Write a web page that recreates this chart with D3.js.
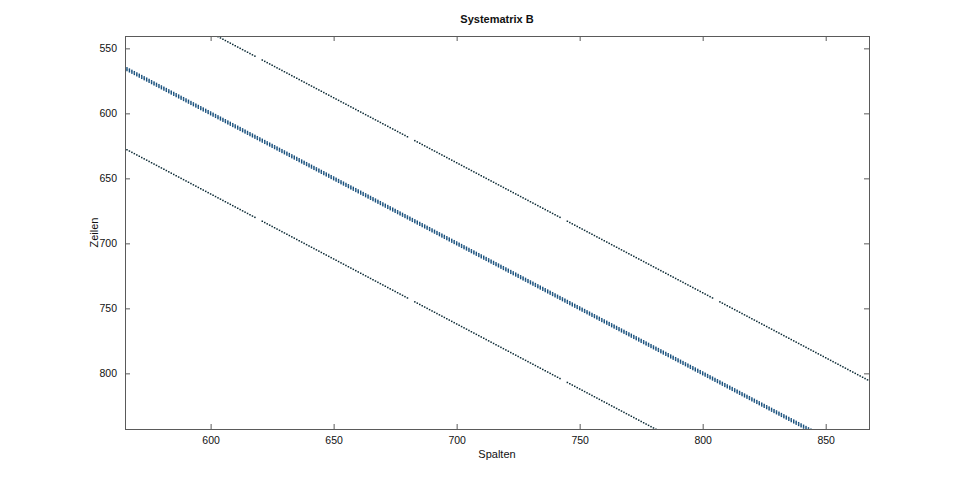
<!DOCTYPE html>
<html>
<head>
<meta charset="utf-8">
<script src="https://cdn.jsdelivr.net/npm/d3@7"></script>
<style>
  html, body { margin: 0; padding: 0; background: #fff; }
  svg { display: block; font-family: "Liberation Sans", Arial, sans-serif; }
</style>
</head>
<body>
<svg id="chart" width="960" height="482"></svg>
<script>
// ---- data ----
const titleText = "Systematrix B";
const xLabelText = "Spalten";
const yLabelText = "Zeilen";
const xDomain = [565.2, 867.6];      // visible column range
const yDomain = [540.5, 842.8];      // visible row range
const xTicks = [600, 650, 700, 750, 800, 850];
const yTicks = [550, 600, 650, 700, 750, 800];
const colRange = [560, 872];         // columns of the matrix section shown
const bandOffsets = [-1, 0, 1];      // tridiagonal main band (row - col)
const outerOffsets = [-62, 62];      // outer diagonals (row - col)
const gapCols = [619, 620, 681, 682, 743, 744, 805, 806]; // missing entries on outer diagonals

// ---- layout ----
const plot = { left: 125, right: 869, top: 36, bottom: 429 };
const svg = d3.select("#chart");
const x = d3.scaleLinear().domain(xDomain).range([plot.left, plot.right]);
const y = d3.scaleLinear().domain(yDomain).range([plot.top, plot.bottom]);

svg.append("defs").append("clipPath").attr("id", "clip")
  .append("rect").attr("x", plot.left).attr("y", plot.top)
  .attr("width", plot.right - plot.left).attr("height", plot.bottom - plot.top);

// build nonzero entries from the diagonals
const bandPts = [];
const outerPts = [];
for (let c = colRange[0]; c <= colRange[1]; c++) {
  bandOffsets.forEach(o => bandPts.push({ r: c + o, c: c }));
  outerOffsets.forEach(o => {
    if (!gapCols.includes(c)) outerPts.push({ r: c + o, c: c });
  });
}

const g = svg.append("g").attr("clip-path", "url(#clip)");
g.selectAll("rect.band").data(bandPts).enter().append("rect")
  .attr("class", "band")
  .attr("x", d => x(d.c) - 0.7).attr("y", d => y(d.r) - 0.8)
  .attr("width", 1.4).attr("height", 1.6)
  .attr("fill", "#174f7c");
g.selectAll("rect.outer").data(outerPts).enter().append("rect")
  .attr("class", "outer")
  .attr("x", d => x(d.c) - 0.75).attr("y", d => y(d.r) - 0.75)
  .attr("width", 1.5).attr("height", 1.5)
  .attr("fill", "#0b2a35");

// axes (ticks inward, mirrored on all sides)
const axisColor = "#5a5a5a";
const tickLen = 5;
const axes = svg.append("g");
const bottomAxis = d3.axisBottom(x).tickValues(xTicks).tickSizeInner(-tickLen).tickSizeOuter(0).tickPadding(8);
const topAxis = d3.axisTop(x).tickValues(xTicks).tickSizeInner(-tickLen).tickSizeOuter(0).tickFormat("");
const leftAxis = d3.axisLeft(y).tickValues(yTicks).tickSizeInner(-tickLen).tickSizeOuter(0).tickPadding(8);
const rightAxis = d3.axisRight(y).tickValues(yTicks).tickSizeInner(-tickLen).tickSizeOuter(0).tickFormat("");

function styleAxis(sel) {
  sel.select(".domain").remove();
  sel.selectAll(".tick line").attr("stroke", axisColor);
  sel.selectAll(".tick text").attr("fill", "#111").attr("font-size", 10.5)
    .attr("font-family", "'Liberation Sans', Arial, sans-serif");
}
axes.append("g").attr("transform", `translate(0,${plot.bottom})`).call(bottomAxis).call(styleAxis);
axes.append("g").attr("transform", `translate(0,${plot.top})`).call(topAxis).call(styleAxis);
axes.append("g").attr("transform", `translate(${plot.left},0)`).call(leftAxis).call(styleAxis);
axes.append("g").attr("transform", `translate(${plot.right},0)`).call(rightAxis).call(styleAxis);

svg.append("rect")
  .attr("x", plot.left + 0.5).attr("y", plot.top + 0.5)
  .attr("width", plot.right - plot.left).attr("height", plot.bottom - plot.top)
  .attr("fill", "none").attr("stroke", axisColor).attr("stroke-width", 1);

// texts
svg.append("text").attr("x", (plot.left + plot.right) / 2).attr("y", 23)
  .attr("text-anchor", "middle").attr("font-size", 11).attr("font-weight", "bold")
  .attr("fill", "#111").text(titleText);
svg.append("text").attr("x", (plot.left + plot.right) / 2).attr("y", 458)
  .attr("text-anchor", "middle").attr("font-size", 11).attr("fill", "#111").text(xLabelText);
svg.append("text").attr("transform", `translate(98,${(plot.top + plot.bottom) / 2}) rotate(-90)`)
  .attr("text-anchor", "middle").attr("font-size", 11).attr("fill", "#111").text(yLabelText);
</script>
</body>
</html>
